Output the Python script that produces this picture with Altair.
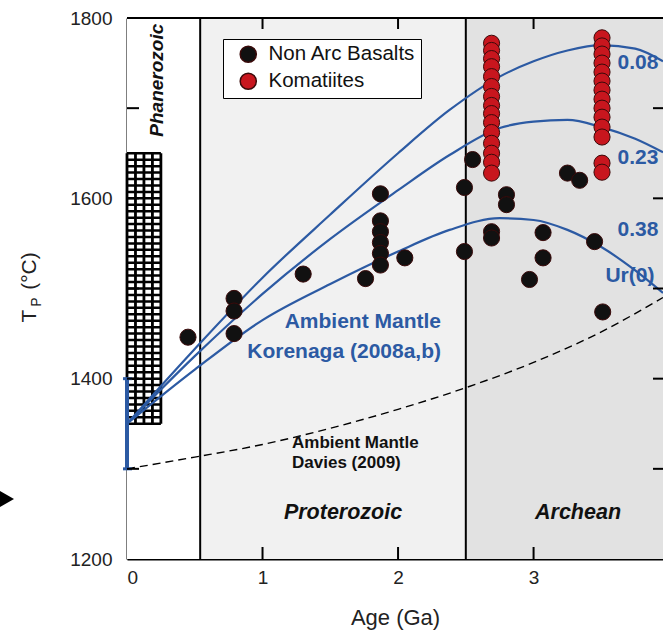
import altair as alt
import pandas as pd
import numpy as np

# ---------------- data ----------------
nab_age = [0.45, 0.79, 0.79, 0.79, 1.30, 1.87, 1.87, 1.87, 1.87, 1.87, 1.87, 1.76, 2.05,
           2.49, 2.55, 2.49, 2.80, 2.80, 2.69, 2.69, 3.07, 3.07, 2.97, 3.25, 3.34, 3.45, 3.51]
nab_tp = [1446, 1489, 1475, 1450, 1516, 1605, 1575, 1563, 1551, 1539, 1526, 1511, 1534,
          1612, 1643, 1541, 1604, 1593, 1563, 1556, 1562, 1534, 1510, 1628, 1620, 1552, 1474]

kom_age = [2.69] * 15 + [3.505] * 14
kom_tp = [1772, 1764, 1755, 1746, 1735, 1724, 1713, 1703, 1694, 1684, 1673, 1661, 1650, 1640, 1628,
          1778, 1769, 1760, 1750, 1740, 1730, 1720, 1710, 1700, 1690, 1679, 1668, 1639, 1629]

curve_age = [0, 0.5, 1.0, 1.5, 2.0, 2.38, 2.75, 3.0, 3.25, 3.5, 3.75, 3.955]
ur_008 = [1350, 1433, 1512, 1582, 1650, 1698, 1735, 1752, 1764, 1770, 1766, 1752]
ur_023 = [1350, 1425, 1494, 1555, 1609, 1648, 1678, 1685, 1687, 1679, 1666, 1651]
ur_038 = [1350, 1410, 1465, 1505, 1541, 1565, 1578, 1576, 1565, 1546, 1520, 1495]

davies_age = [0, 0.5, 1.0, 1.5, 2.0, 2.5, 3.0, 3.5, 3.955]
davies_tp = [1300, 1313, 1327, 1345, 1366, 1390, 1418, 1452, 1490]

eon_start = [0.0, 0.54, 2.5]
eon_end = [0.54, 2.5, 3.955]
eon_fill = ["#ffffff", "#f1f1f1", "#e2e2e2"]

x_labels = [0, 1, 2, 3]
y_labels = [1200, 1400, 1600, 1800]
x_minor = [1, 2, 3]
y_minor = [1300, 1400, 1500, 1600, 1700]

W, H = 536, 541
BLUE = "#2c5aa3"
FONT = "Liberation Sans"

# ---------------- scales / axes ----------------
xs = alt.Scale(domain=[0, 3.955], nice=False, zero=False)
ys = alt.Scale(domain=[1200, 1800], nice=False, zero=False)
xax = alt.Axis(values=x_labels, format="d", ticks=False, grid=False, domainColor="black",
               domainWidth=2, labelFontSize=19, labelColor="#222", labelPadding=9,
               title="Age (Ga)", titleFontSize=22, titleFontWeight="normal",
               titleColor="#222", titlePadding=20)
yax = alt.Axis(values=y_labels, format="d", ticks=False, grid=False, domainColor="black",
               domainWidth=2, labelFontSize=19, labelColor="#222", labelPadding=15, title=None)


def X(f):
    return alt.X(f, type="quantitative", scale=xs, axis=xax)


def Y(f):
    return alt.Y(f, type="quantitative", scale=ys, axis=yax)


# ---------------- layers ----------------
eons = pd.DataFrame({"a": eon_start, "b": eon_end, "fill": eon_fill})
bg = alt.Chart(eons).mark_rect().encode(
    x=X("a"), x2="b", y=alt.value(0), y2=alt.value(H),
    fill=alt.Fill("fill:N", scale=None))

# Phanerozoic hatch box (decorative grid pattern)
hx = pd.DataFrame({"a": list(np.linspace(0, 0.25, 5))})
hy = pd.DataFrame({"t": list(np.linspace(1350, 1650, 43))})
hatch_v = alt.Chart(hx).mark_rule(color="black", strokeWidth=2.8).encode(
    x=X("a"), y=alt.datum(1350, type="quantitative", scale=ys, axis=yax), y2=alt.datum(1650))
hatch_h = alt.Chart(hy).mark_rule(color="black", strokeWidth=2.5).encode(
    y=Y("t"), x=alt.datum(0, type="quantitative", scale=xs, axis=xax), x2=alt.datum(0.25))

bounds = pd.DataFrame({"a": [0.54, 2.5]})
vlines = alt.Chart(bounds).mark_rule(color="black", strokeWidth=2).encode(
    x=X("a"), y=alt.value(0), y2=alt.value(H))

dav = pd.DataFrame({"age": davies_age, "tp": davies_tp})
dashed = alt.Chart(dav).mark_line(color="black", strokeWidth=1.4, strokeDash=[8, 5],
                                  interpolate="monotone").encode(x=X("age"), y=Y("tp"))

curves = pd.concat([
    pd.DataFrame({"age": curve_age, "tp": ur_008, "c": "0.08"}),
    pd.DataFrame({"age": curve_age, "tp": ur_023, "c": "0.23"}),
    pd.DataFrame({"age": curve_age, "tp": ur_038, "c": "0.38"}),
])
blue = alt.Chart(curves).mark_line(color=BLUE, strokeWidth=2.2, interpolate="monotone").encode(
    x=X("age"), y=Y("tp"), detail="c:N")

err = pd.DataFrame({"age": [0], "lo": [1300], "hi": [1400]})
ebar = alt.Chart(err).mark_rule(color=BLUE, strokeWidth=4).encode(x=X("age"), y=Y("lo"), y2="hi")
caps_df = pd.DataFrame({"tp": [1300, 1400]})
caps = alt.Chart(caps_df).mark_rule(color=BLUE, strokeWidth=3).encode(
    y=Y("tp"), x=alt.value(-4), x2=alt.value(5))

pts = pd.concat([
    pd.DataFrame({"age": nab_age, "tp": nab_tp, "type": "Non Arc Basalts"}),
    pd.DataFrame({"age": kom_age, "tp": kom_tp, "type": "Komatiites"}),
])
points = alt.Chart(pts).mark_circle(size=260, opacity=1, stroke="#3a0a0a", strokeWidth=1).encode(
    x=X("age"), y=Y("tp"),
    color=alt.Color("type:N",
                    scale=alt.Scale(domain=["Non Arc Basalts", "Komatiites"],
                                    range=["#111111", "#c8161e"]),
                    legend=alt.Legend(orient="none", legendX=96, legendY=21, title=None,
                                      fillColor="white", strokeColor="black", padding=5,
                                      symbolOffset=10, labelOffset=10, rowPadding=4,
                                      symbolSize=260, labelFontSize=20.5, labelFont=FONT,
                                      labelColor="#111", symbolType="circle")))

# ---------------- text ----------------
def texts(df, **kw):
    return alt.Chart(df).mark_text(font=FONT, **kw).encode(x=X("age"), y=Y("tp"), text="label:N")


kor = texts(pd.DataFrame({"age": [2.317, 2.317], "tp": [1463, 1430],
                          "label": ["Ambient Mantle", "Korenaga (2008a,b)"]}),
            color=BLUE, fontSize=21, fontWeight="bold", align="right", baseline="middle")
dav_t = texts(pd.DataFrame({"age": [1.218, 1.218], "tp": [1329, 1306],
                            "label": ["Ambient Mantle", "Davies (2009)"]}),
              color="#111", fontSize=17, fontWeight="bold", align="left", baseline="middle")
eon_t = texts(pd.DataFrame({"age": [1.594, 3.328], "tp": [1251, 1251],
                            "label": ["Proterozoic", "Archean"]}),
              color="#111", fontSize=21.5, fontWeight="bold", fontStyle="italic",
              align="center", baseline="middle")
phan = texts(pd.DataFrame({"age": [0.22], "tp": [1731], "label": ["Phanerozoic"]}),
             color="#111", fontSize=19, fontWeight="bold", fontStyle="italic",
             align="center", baseline="middle", angle=270)
ur_t = texts(pd.DataFrame({"age": [3.62, 3.62, 3.62, 3.53], "tp": [1750, 1645, 1565, 1514],
                           "label": ["0.08", "0.23", "0.38", "Ur(0)"]}),
             color=BLUE, fontSize=21, fontWeight="bold", align="left", baseline="middle")

# y axis title  T_P (°C)
yt1 = alt.Chart(pd.DataFrame({"s": ["T"]})).mark_text(
    font=FONT, fontSize=21, angle=270, color="#222", align="center", baseline="middle").encode(
    text="s:N", x=alt.value(-97), y=alt.value(298))
yt2 = alt.Chart(pd.DataFrame({"s": ["P"]})).mark_text(
    font=FONT, fontSize=14, angle=270, color="#222", align="center", baseline="middle").encode(
    text="s:N", x=alt.value(-90), y=alt.value(284))
yt3 = alt.Chart(pd.DataFrame({"s": ["(°C)"]})).mark_text(
    font=FONT, fontSize=21, angle=270, color="#222", align="center", baseline="middle").encode(
    text="s:N", x=alt.value(-97), y=alt.value(253))

arrow = alt.Chart(pd.DataFrame({"s": ["a"]})).mark_point(
    shape="triangle-right", filled=True, color="black", size=260, opacity=1).encode(
    x=alt.value(-120), y=alt.value(481), detail="s:N")

# inward ticks and top frame
ydf = pd.DataFrame({"tp": y_minor})
xdf = pd.DataFrame({"age": x_minor})
lt = alt.Chart(ydf).mark_rule(color="black", strokeWidth=2).encode(y=Y("tp"), x=alt.value(0), x2=alt.value(12))
rt = alt.Chart(ydf).mark_rule(color="black", strokeWidth=2).encode(y=Y("tp"), x=alt.value(W - 10), x2=alt.value(W))
bt = alt.Chart(xdf).mark_rule(color="black", strokeWidth=2).encode(x=X("age"), y=alt.value(H - 12), y2=alt.value(H))
tt = alt.Chart(xdf).mark_rule(color="black", strokeWidth=2).encode(x=X("age"), y=alt.value(0), y2=alt.value(11))
top = alt.Chart(pd.DataFrame({"s": ["t"]})).mark_rule(color="black", strokeWidth=2).encode(
    y=alt.value(0), x=alt.value(0), x2=alt.value(W), detail="s:N")

chart = alt.layer(
    bg, hatch_v, hatch_h, vlines, dashed, blue, ebar, caps, points,
    kor, dav_t, eon_t, phan, ur_t, yt1, yt2, yt3, arrow, lt, rt, bt, tt, top
).properties(
    width=W, height=H,
    autosize=alt.AutoSizeParams(type="none"),
    padding={"left": 127, "top": 18, "right": 0, "bottom": 71},
    background="white",
).configure_view(stroke=None).configure_axis(labelFont=FONT, titleFont=FONT)

chart.save("out.html", embed_options={"renderer": "svg", "actions": False})
